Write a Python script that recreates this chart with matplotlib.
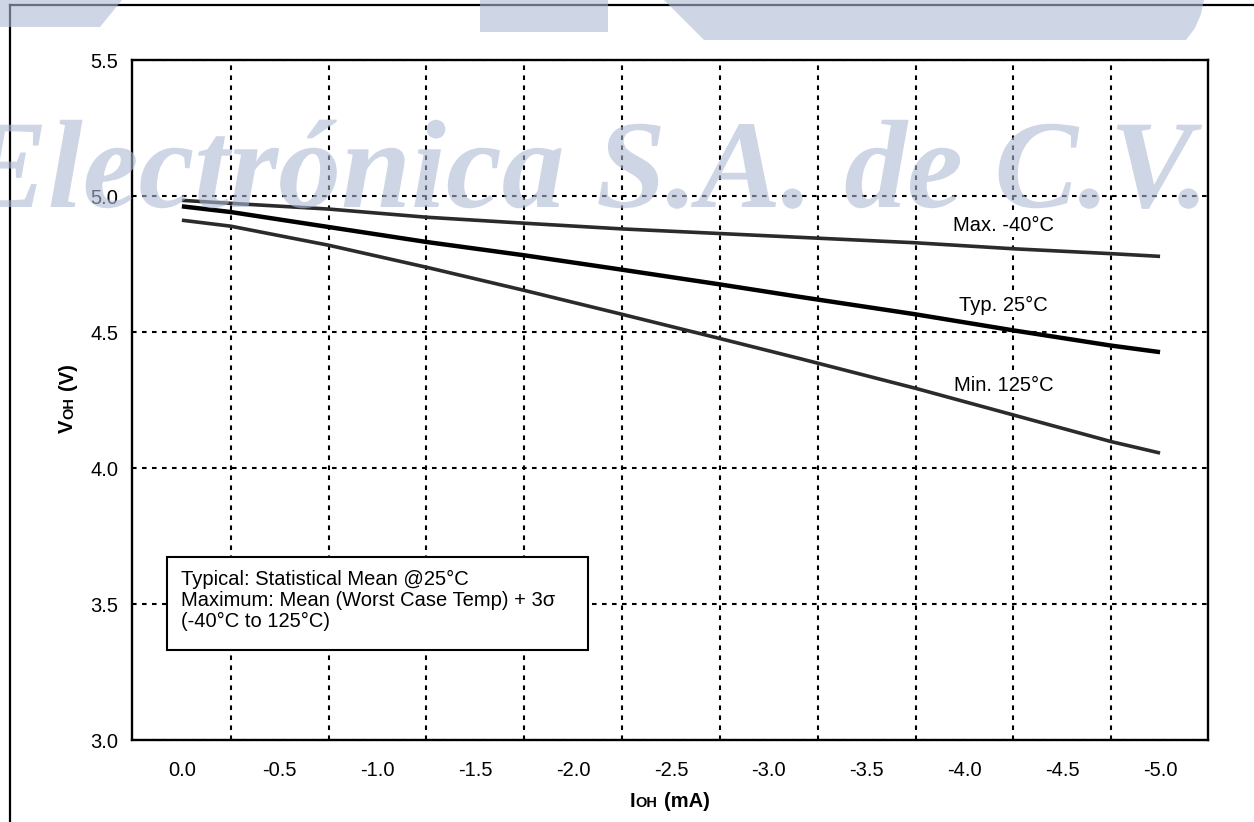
import matplotlib
matplotlib.use('Agg')
import matplotlib.pyplot as plt
from matplotlib.textpath import TextPath
from matplotlib.font_manager import FontProperties
from matplotlib.patches import PathPatch, Polygon, Rectangle
from matplotlib.transforms import Affine2D
from matplotlib.lines import Line2D

# ---------------- data ----------------
ioh = [0.0, -0.25, -0.75, -1.25, -1.75, -2.25, -2.75, -3.16, -3.75, -4.25, -4.75, -5.0]
voh_max = [4.984, 4.973, 4.952, 4.922, 4.900, 4.879, 4.862, 4.848, 4.828, 4.806, 4.788, 4.778]
voh_typ = [4.962, 4.941, 4.886, 4.831, 4.782, 4.729, 4.675, 4.629, 4.565, 4.506, 4.450, 4.426]
voh_min = [4.911, 4.889, 4.819, 4.738, 4.653, 4.565, 4.476, 4.402, 4.293, 4.195, 4.097, 4.055]
curve_labels = ["Max. -40°C", "Typ. 25°C", "Min. 125°C"]
x_ticks = [0.0, -0.5, -1.0, -1.5, -2.0, -2.5, -3.0, -3.5, -4.0, -4.5, -5.0]
x_grid = [-0.25, -0.75, -1.25, -1.75, -2.25, -2.75, -3.25, -3.75, -4.25, -4.75]
y_ticks = [3.0, 3.5, 4.0, 4.5, 5.0, 5.5]
note_lines = ["Typical: Statistical Mean @25°C",
              "Maximum: Mean (Worst Case Temp) + 3σ",
              "(-40°C to 125°C)"]
watermark = "Electrónica S.A. de C.V."

# ---------------- layout ----------------
W, H = 1254, 822
plt.rcParams['font.family'] = ['Liberation Sans', 'DejaVu Sans']
FS = 14.5

fig = plt.figure(figsize=(W / 100, H / 100), dpi=100)
fig.patch.set_facecolor('white')


def fx(x):
    return x / W


def fy(y):
    return 1 - y / H


ax = fig.add_axes([fx(132), fy(740), (1208 - 132) / W, (740 - 60) / H])
ax.set_xlim(0.255, -5.245)
ax.set_ylim(3.0, 5.5)
ax.set_xticks(x_ticks)
ax.set_xticklabels([f"{v:.1f}" for v in x_ticks])
ax.set_yticks(y_ticks)
ax.set_yticklabels([f"{v:.1f}" for v in y_ticks])
ax.set_xticks(x_grid, minor=True)
ax.tick_params(axis='both', which='both', length=0, labelsize=FS)
ax.tick_params(axis='x', pad=15)
ax.tick_params(axis='y', pad=10)
ax.set_axisbelow(True)
grid_kw = dict(color='black', linewidth=1.5, linestyle=(0, (2.2, 2.6)))
ax.grid(which='minor', axis='x', **grid_kw)
ax.grid(which='major', axis='y', **grid_kw)
ax.grid(which='major', axis='x', visible=False)
for s in ax.spines.values():
    s.set_linewidth(1.7)
    s.set_color('black')

ax.plot(ioh, voh_max, color='#2b2b2b', lw=2.6, solid_capstyle='butt', zorder=3)
ax.plot(ioh, voh_typ, color='black', lw=3.2, solid_capstyle='butt', zorder=3)
ax.plot(ioh, voh_min, color='#2b2b2b', lw=2.6, solid_capstyle='butt', zorder=3)

label_pos = [(-4.2, 4.89), (-4.2, 4.596), (-4.2, 4.305)]
for txt, (lx, ly) in zip(curve_labels, label_pos):
    ax.text(lx, ly, txt, fontsize=FS, ha='center', va='center', zorder=1,
            bbox=dict(facecolor='white', edgecolor='none', pad=1.5))

# note box
fig.patches.append(Rectangle((fx(167), fy(650)), (588 - 167) / W, (650 - 557) / H,
                             transform=fig.transFigure, facecolor='white',
                             edgecolor='black', lw=1.5, zorder=1))
for txt, yb in zip(note_lines, [585, 606, 627]):
    fig.text(fx(181), fy(yb), txt, fontsize=FS, ha='left', va='baseline', zorder=2)

# axis labels with small-caps subscripts
renderer = fig.canvas.get_renderer()


def measure(s, size):
    t = fig.text(0, 0, s, fontsize=size, fontweight='bold')
    w = t.get_window_extent(renderer).width
    t.remove()
    return w


SPACE = measure("I I", FS) - 2 * measure("I", FS) + 1.0


def composed(pieces, centre, base, rot):
    # pieces: (text, size, gap_after)
    widths = [measure(s, sz) for s, sz, g in pieces]
    total = sum(widths) + sum(g for _, _, g in pieces)
    if rot == 0:
        x = centre - total / 2
        for (s, sz, g), w in zip(pieces, widths):
            fig.text(fx(x), fy(base), s, fontsize=sz, fontweight='bold',
                     ha='left', va='baseline', rotation=0, rotation_mode='anchor')
            x += w + g
    else:
        y = centre + total / 2
        for (s, sz, g), w in zip(pieces, widths):
            fig.text(fx(base), fy(y), s, fontsize=sz, fontweight='bold',
                     ha='left', va='baseline', rotation=90, rotation_mode='anchor')
            y -= w + g


composed([("I", FS, 0.5), ("OH", FS * 0.72, SPACE), ("(mA)", FS, 0)], 670, 807, 0)
composed([("V", FS, 0.5), ("OH", FS * 0.72, SPACE), ("(V)", FS, 0)], 398, 73, 90)

# frame lines of the page
fig.lines.append(Line2D([fx(10), fx(10)], [fy(5), fy(822)], transform=fig.transFigure,
                        color='black', lw=1.6, zorder=5))
fig.lines.append(Line2D([fx(10), fx(1254)], [fy(5), fy(5)], transform=fig.transFigure,
                        color='black', lw=1.6, zorder=5))

# watermark overlay
wm_col = (0.683, 0.725, 0.833)
wm_alpha = 0.6
shapes = [
    [(0, 0), (122, 0), (100, 27), (0, 27)],
    [(480, 0), (608, 0), (608, 32), (480, 32)],
    [(664, 0), (1204, 0), (1201, 14), (1195, 28), (1186, 40), (704, 40)],
]
for pts in shapes:
    fig.patches.append(Polygon([(fx(a), fy(b)) for a, b in pts], closed=True,
                               transform=fig.transFigure, facecolor=wm_col,
                               edgecolor='none', alpha=wm_alpha, zorder=10))

fp = FontProperties(family='Liberation Serif', weight='bold', style='italic')
tp = TextPath((0, 0), watermark, size=100, prop=fp)
ext = tp.get_extents()
x0_px, x1_px, base_px = -37, 1202, 207
s = (x1_px - x0_px) / ext.width
tr = (Affine2D().translate(-ext.x0, 0).scale(s / W, s / H)
      .translate(fx(x0_px), fy(base_px)) + fig.transFigure)
fig.patches.append(PathPatch(tp, transform=tr, facecolor=wm_col, edgecolor='none',
                             alpha=wm_alpha, zorder=10))

fig.savefig('out.png', dpi=100, facecolor='white')
